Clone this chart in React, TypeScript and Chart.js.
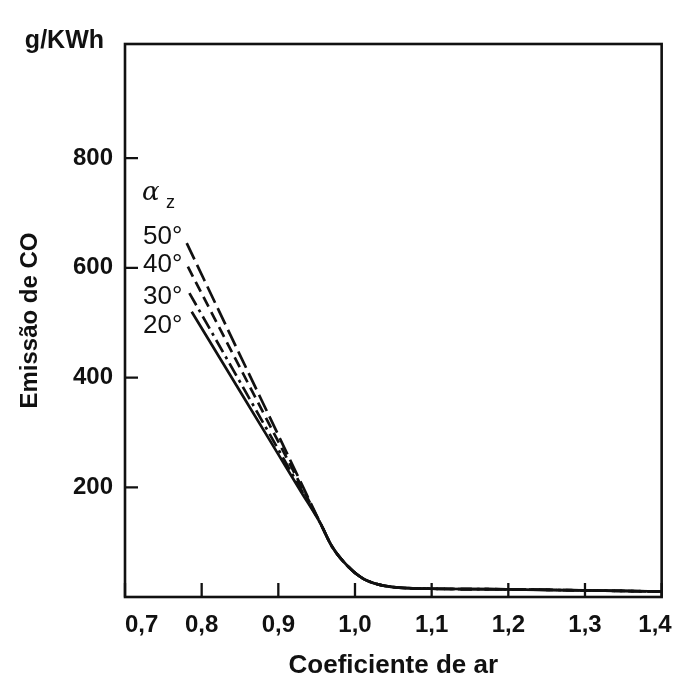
import { useEffect, useRef } from "react";
import { Chart, registerables } from "chart.js";

Chart.register(...registerables);

// ---- data ----
const X_TICKS = [0.7, 0.8, 0.9, 1.0, 1.1, 1.2, 1.3, 1.4];
const X_TICK_LABELS = ["0,7", "0,8", "0,9", "1,0", "1,1", "1,2", "1,3", "1,4"];
const Y_TICKS = [200, 400, 600, 800];
const Y_TICK_LABELS = ["200", "400", "600", "800"];

const SERIES_LABELS = ["20°", "30°", "40°", "50°"];

// individual branches (before the curves merge)
const HEAD_X_20 = [0.787, 0.85, 0.9, 0.93];
const HEAD_Y_20 = [520, 375, 260, 191];
const HEAD_X_30 = [0.784, 0.85, 0.9, 0.93];
const HEAD_Y_30 = [554, 392, 269, 195];
const HEAD_X_40 = [0.782, 0.85, 0.9, 0.93];
const HEAD_Y_40 = [602, 418, 283, 202];
const HEAD_X_50 = [0.7805, 0.85, 0.9, 0.93];
const HEAD_Y_50 = [645, 441, 295, 207];

// common part of all curves
const TAIL_X = [0.955, 0.97, 0.99, 1.01, 1.03, 1.05, 1.07, 1.1, 1.2, 1.3, 1.4];
const TAIL_Y = [134, 92, 57, 34, 23, 18, 16, 15, 14, 12, 10];

const FONT = "'Liberation Sans', Arial, Helvetica, sans-serif";

function buildSeries(hx: number[], hy: number[]) {
  const pts = hx.map((x, i) => ({ x, y: hy[i] }));
  TAIL_X.forEach((x, i) => pts.push({ x, y: TAIL_Y[i] }));
  return pts;
}

const framePlugin = {
  id: "frame",
  afterDatasetsDraw(chart: any) {
    const { ctx, chartArea } = chart;
    const xs = chart.scales.x;
    const ys = chart.scales.y;
    const { left, right, top, bottom } = chartArea;
    ctx.save();
    ctx.strokeStyle = "#111";
    ctx.lineWidth = 2.6;
    ctx.strokeRect(left, top, right - left, bottom - top);
    ctx.lineWidth = 2.3;
    ctx.beginPath();
    Y_TICKS.forEach((v) => {
      const py = ys.getPixelForValue(v);
      ctx.moveTo(left, py);
      ctx.lineTo(left + 13, py);
    });
    X_TICKS.forEach((v) => {
      const px = xs.getPixelForValue(v);
      ctx.moveTo(px, bottom);
      ctx.lineTo(px, bottom - 14);
    });
    ctx.stroke();

    // unit label
    ctx.fillStyle = "#111";
    ctx.font = `bold 25px ${FONT}`;
    ctx.textAlign = "right";
    ctx.textBaseline = "middle";
    ctx.fillText("g/KWh", left - 21, top - 3);

    // curve labels
    ctx.textAlign = "left";
    ctx.font = `26px ${FONT}`;
    const lx = left + 18;
    const labelY = [494, 547, 605, 656];
    SERIES_LABELS.forEach((t, i) => {
      ctx.fillText(t, lx, ys.getPixelForValue(labelY[i]));
    });
    ctx.font = `italic 26px 'DejaVu Serif', serif`;
    ctx.fillText("α", lx - 1, ys.getPixelForValue(736));
    ctx.font = `18px ${FONT}`;
    ctx.fillText("z", lx + 23, ys.getPixelForValue(719));
    ctx.restore();
  },
};

export default function App() {
  const ref = useRef<HTMLCanvasElement | null>(null);

  useEffect(() => {
    document.body.style.margin = "0";
    const canvas = ref.current;
    if (!canvas) return;
    const heads: [number[], number[], number[]][] = [
      [HEAD_X_20, HEAD_Y_20, []],
      [HEAD_X_30, HEAD_Y_30, [14, 5, 3, 5]],
      [HEAD_X_40, HEAD_Y_40, [11, 6]],
      [HEAD_X_50, HEAD_Y_50, [18, 6]],
    ];
    const chart = new Chart(canvas, {
      type: "line",
      data: {
        datasets: heads.map(([hx, hy, dash], i) => ({
          label: SERIES_LABELS[i],
          data: buildSeries(hx, hy),
          borderColor: "#111",
          borderWidth: 2.7,
          borderDash: dash,
          pointRadius: 0,
          fill: false,
          cubicInterpolationMode: "monotone" as const,
        })),
      },
      options: {
        animation: false,
        responsive: false,
        layout: { padding: { top: 44, right: 36, left: 0, bottom: 0 } },
        plugins: { legend: { display: false }, tooltip: { enabled: false } },
        scales: {
          x: {
            type: "linear",
            min: 0.7,
            max: 1.4,
            afterBuildTicks: (s: any) => {
              s.ticks = X_TICKS.map((v) => ({ value: v }));
            },
            afterFit: (s: any) => {
              s.height = 87;
            },
            grid: { display: false, drawTicks: false },
            border: { display: false },
            ticks: {
              padding: 14,
              color: "#111",
              font: { family: FONT, size: 24, weight: "bold" },
              maxRotation: 0,
              autoSkip: false,
              callback: (v: any) => {
                const i = X_TICKS.findIndex((t) => Math.abs(t - v) < 1e-6);
                if (i < 0) return "";
                if (i === 0) return "     " + X_TICK_LABELS[i];
                if (i === X_TICKS.length - 1) return X_TICK_LABELS[i] + "  ";
                return X_TICK_LABELS[i];
              },
            },
            title: {
              display: true,
              text: "Coeficiente de ar",
              color: "#111",
              font: { family: FONT, size: 26, weight: "bold" },
              padding: { top: 0, bottom: 3 },
            },
          },
          y: {
            type: "linear",
            min: 0,
            max: 1008,
            afterBuildTicks: (s: any) => {
              s.ticks = Y_TICKS.map((v) => ({ value: v }));
            },
            afterFit: (s: any) => {
              s.width = 125;
            },
            grid: { display: false, drawTicks: false },
            border: { display: false },
            ticks: {
              padding: 12,
              color: "#111",
              font: { family: FONT, size: 24, weight: "bold" },
              callback: (v: any) => {
                const i = Y_TICKS.indexOf(v);
                return i < 0 ? "" : Y_TICK_LABELS[i];
              },
            },
            title: {
              display: true,
              text: "Emissão de CO",
              color: "#111",
              font: { family: FONT, size: 24, weight: "bold" },
              padding: { top: 16, bottom: 0 },
            },
          },
        },
      },
      plugins: [framePlugin],
    });
    return () => chart.destroy();
  }, []);

  return (
    <div style={{ width: 699, height: 684, background: "#fff" }}>
      <canvas ref={ref} width={699} height={684} />
    </div>
  );
}
